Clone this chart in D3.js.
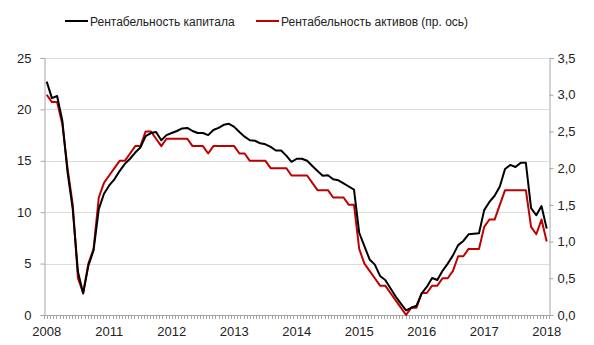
<!DOCTYPE html>
<html>
<head>
<meta charset="utf-8">
<script src="https://cdn.jsdelivr.net/npm/d3@7"></script>
<style>
  body { margin: 0; background: #fff; }
  svg { display: block; font-family: "Liberation Sans", Arial, sans-serif; }
</style>
</head>
<body>
<div id="chart"></div>
<script>
// monthly observations, first point = 2008 label, last = 2018 label
let yearLabels = ["2008", "2011", "2012", "2013", "2014", "2015", "2016", "2017", "2018"];

// Рентабельность капитала, % (left axis)
let roe = [
  22.7, 21.1, 21.3, 18.9, 13.9, 10.3, 4.2, 2.1, 4.8, 6.3,
  10.3, 11.8, 12.6, 13.2, 14.0, 14.7, 15.2, 15.8, 16.3, 17.4,
  17.7, 17.8, 17.0, 17.5, 17.7, 17.9, 18.15, 18.2, 17.9, 17.7,
  17.7, 17.5, 18.0, 18.2, 18.5, 18.6, 18.3, 17.8, 17.35, 17.0,
  16.95, 16.7, 16.6, 16.35, 16.0, 16.0, 15.5, 14.9, 15.2, 15.2,
  15.0, 14.5, 14.0, 13.55, 13.6, 13.2, 13.1, 12.8, 12.5, 12.2,
  8.0, 6.7, 5.4, 4.9, 3.8, 3.4, 2.6, 1.8, 1.1, 0.45,
  0.7, 0.9, 2.1, 2.75, 3.6, 3.4, 4.3, 5.0, 5.8, 6.8,
  7.2, 7.85, 7.9, 7.95, 10.2, 11.0, 11.6, 12.5, 14.2, 14.6,
  14.4, 14.8, 14.8, 10.4, 9.7, 10.6, 8.4
];

// Рентабельность активов, % (right axis)
let roa = [
  3.0, 2.9, 2.9, 2.6, 2.0, 1.5, 0.5, 0.3, 0.7, 0.9,
  1.6, 1.8, 1.9, 2.0, 2.1, 2.1, 2.2, 2.3, 2.3, 2.5,
  2.5, 2.4, 2.3, 2.4, 2.4, 2.4, 2.4, 2.4, 2.3, 2.3,
  2.3, 2.2, 2.3, 2.3, 2.3, 2.3, 2.3, 2.2, 2.2, 2.1,
  2.1, 2.1, 2.1, 2.0, 2.0, 2.0, 2.0, 1.9, 1.9, 1.9,
  1.9, 1.8, 1.7, 1.7, 1.7, 1.6, 1.6, 1.6, 1.5, 1.5,
  0.9, 0.7, 0.6, 0.5, 0.4, 0.4, 0.3, 0.2, 0.1, 0.0,
  0.1, 0.1, 0.3, 0.3, 0.4, 0.4, 0.5, 0.5, 0.6, 0.8,
  0.8, 0.9, 0.9, 0.9, 1.2, 1.3, 1.3, 1.5, 1.7, 1.7,
  1.7, 1.7, 1.7, 1.2, 1.1, 1.3, 1.0
];

let leftTicks = [0, 5, 10, 15, 20, 25];
let rightTicks = [0, 0.5, 1, 1.5, 2, 2.5, 3, 3.5];

let width = 594;
let height = 345;
let margin = { top: 58, right: 45, bottom: 30, left: 44 };
let plotRight = width - margin.right;
let plotBottom = height - margin.bottom;

let svg = d3.select("#chart")
  .append("svg")
  .attr("width", width)
  .attr("height", height);

let x = d3.scaleLinear()
  .domain([0, roe.length - 1])
  .range([46.7, 546.7]);

let yLeft = d3.scaleLinear().domain([0, 25]).range([plotBottom, margin.top]);
let yRight = d3.scaleLinear().domain([0, 3.5]).range([plotBottom, margin.top]);

let axisColor = "#a6a6a6";
let textColor = "#222";

// gridlines
svg.append("g")
  .selectAll("line")
  .data(leftTicks.filter(d => d > 0))
  .enter()
  .append("line")
  .attr("x1", margin.left)
  .attr("x2", plotRight)
  .attr("y1", d => Math.round(yLeft(d)) + 0.5)
  .attr("y2", d => Math.round(yLeft(d)) + 0.5)
  .attr("stroke", "#dcdcdc")
  .attr("stroke-width", 1);

// left axis
let gLeft = svg.append("g")
  .attr("transform", `translate(${margin.left + 0.5},0)`)
  .call(d3.axisLeft(yLeft).tickValues(leftTicks).tickSize(4).tickPadding(9).tickFormat(d3.format("d")));

// right axis
let gRight = svg.append("g")
  .attr("transform", `translate(${plotRight + 0.5},0)`)
  .call(d3.axisRight(yRight).tickValues(rightTicks).tickSize(4).tickPadding(4)
    .tickFormat(d => d3.format(".1f")(d).replace(".", ",")));

// bottom axis: minor ticks + year labels
let tickScale = d3.scaleLinear().domain([0, 162]).range([margin.left, plotRight]);
let gBottom = svg.append("g");
gBottom.append("line")
  .attr("x1", margin.left)
  .attr("x2", plotRight + 1)
  .attr("y1", plotBottom + 0.5)
  .attr("y2", plotBottom + 0.5)
  .attr("stroke", axisColor);
gBottom.selectAll("line.minor")
  .data(d3.range(0, 163))
  .enter()
  .append("line")
  .attr("class", "minor")
  .attr("x1", d => Math.round(tickScale(d)) + 0.5)
  .attr("x2", d => Math.round(tickScale(d)) + 0.5)
  .attr("y1", plotBottom)
  .attr("y2", plotBottom + 4)
  .attr("stroke", axisColor);
gBottom.selectAll("text")
  .data(yearLabels)
  .enter()
  .append("text")
  .attr("x", (d, i) => x(i * 12))
  .attr("y", plotBottom + 21)
  .attr("text-anchor", "middle")
  .attr("fill", textColor)
  .style("font-size", "13px")
  .text(d => d);

[gLeft, gRight].forEach(g => {
  g.select(".domain").attr("stroke", axisColor);
  g.selectAll(".tick line").attr("stroke", axisColor);
  g.selectAll("text")
    .attr("fill", textColor)
    .style("font-size", "13px")
    .style("font-family", "Liberation Sans, Arial, sans-serif");
});

// lines
let roeLine = d3.line()
  .x((d, i) => x(i))
  .y(d => yLeft(d));

let roaLine = d3.line()
  .x((d, i) => x(i))
  .y(d => yRight(d));

svg.append("path")
  .datum(roa)
  .attr("d", roaLine)
  .attr("fill", "none")
  .attr("stroke", "#c00000")
  .attr("stroke-width", 2)
  .attr("stroke-linejoin", "round");

svg.append("path")
  .datum(roe)
  .attr("d", roeLine)
  .attr("fill", "none")
  .attr("stroke", "#000")
  .attr("stroke-width", 2)
  .attr("stroke-linejoin", "round");

// legend
let legend = [
  { name: "Рентабельность капитала", color: "#000", x: 65 },
  { name: "Рентабельность активов (пр. ось)", color: "#c00000", x: 256 }
];
let gLegend = svg.append("g");
legend.forEach(d => {
  gLegend.append("line")
    .attr("x1", d.x)
    .attr("x2", d.x + 23)
    .attr("y1", 21)
    .attr("y2", 21)
    .attr("stroke", d.color)
    .attr("stroke-width", 2);
  gLegend.append("text")
    .attr("x", d.x + 25)
    .attr("y", 25.5)
    .attr("fill", textColor)
    .style("font-size", "12px")
    .text(d.name);
});
</script>
</body>
</html>
